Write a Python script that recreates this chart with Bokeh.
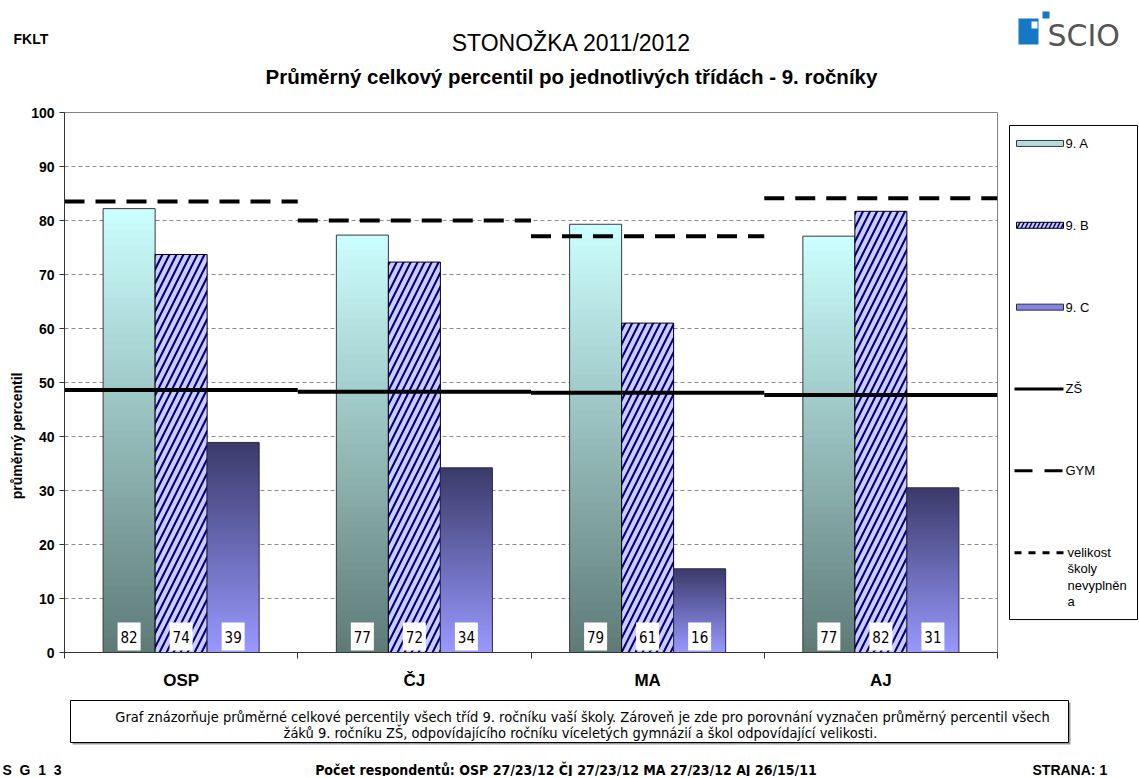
import math
from bokeh.plotting import figure
from bokeh.models import ColumnDataSource, Range1d, FixedTicker
from bokeh.layouts import column, row
from bokeh.embed import file_html
from bokeh.resources import INLINE
from bokeh.core.properties import value
from bokeh.transform import dodge

# ---------------- data ----------------
categories = ["OSP", "ČJ", "MA", "AJ"]
series_names = ["9. A", "9. B", "9. C"]
vals_9a = [82.2, 77.3, 79.3, 77.1]
vals_9b = [73.7, 72.3, 61.0, 81.7]
vals_9c = [38.9, 34.2, 15.5, 30.5]
vals_zs = [48.6, 48.3, 48.1, 47.7]
vals_gym = [83.5, 80.0, 77.1, 84.1]
y_ticks = [0, 10, 20, 30, 40, 50, 60, 70, 80, 90, 100]
respondents = ["27/23/12", "27/23/12", "27/23/12", "26/15/11"]
legend_line_names = ["ZŠ", "GYM", "velikost\nškoly\nnevyplněn\na"]

title_text = "STONOŽKA 2011/2012"
subtitle_text = "Průměrný celkový percentil po jednotlivých třídách - 9. ročníky"
y_label = "průměrný percentil"
caption_lines = [
    "Graf znázorňuje průměrné celkové percentily všech tříd 9. ročníku vaší školy. Zároveň je zde pro porovnání vyznačen průměrný percentil všech",
    "žáků  9. ročníku ZŠ, odpovídajícího ročníku víceletých gymnázií a škol odpovídající velikosti.",
]

# ---------------- styles ----------------
ARIAL = "Liberation Sans"
NARROW = "'Liberation Sans Narrow', 'DejaVu Sans Condensed', 'Liberation Sans', sans-serif"
A_TOP, A_BOT = (0xCC, 0xFF, 0xFF), (0x5E, 0x7A, 0x77)
C_TOP, C_BOT = (0x3A, 0x3A, 0x6A), (0x99, 0x99, 0xFF)
BW = 0.223          # bar width (category units)
LABEL_Y = 2.95      # value-label box centre (just above axis)
TOP_B, BOT_B = 14, 39   # shared top / bottom borders of the middle row

n = len(categories)
xs = list(range(n))

src = ColumnDataSource(dict(
    x=xs, a=vals_9a, b=vals_9b, c=vals_9c, zs=vals_zs, gym=vals_gym,
    la=[str(int(v + 0.5)) for v in vals_9a],
    lb=[str(int(v + 0.5)) for v in vals_9b],
    lc=[str(int(v + 0.5)) for v in vals_9c],
))


def mix(c1, c2, f):
    return "#%02x%02x%02x" % tuple(int(round(a + (b - a) * f)) for a, b in zip(c1, c2))


def gradient_source(vals, offset, c_bot, c_top, steps=60):
    d = dict(left=[], right=[], bottom=[], top=[], color=[])
    for i, v in enumerate(vals):
        for k in range(steps):
            d["left"].append(i + offset - BW / 2)
            d["right"].append(i + offset + BW / 2)
            d["bottom"].append(v * k / steps)
            d["top"].append(min(v, v * (k + 1.6) / steps))
            d["color"].append(mix(c_bot, c_top, (k + 0.5) / steps))
    return ColumnDataSource(d)


def canvas(w, h, xr, yr, **kw):
    f = figure(width=w, height=h, x_range=Range1d(*xr), y_range=Range1d(*yr),
               output_backend="svg", toolbar_location=None, min_border=0,
               x_axis_location=None, y_axis_location=None, **kw)
    f.outline_line_color = None
    f.grid.visible = False
    return f


# ---------------- main chart ----------------
LEFT_W = 26
p = figure(width=1003 - LEFT_W, height=594, x_range=Range1d(-0.5, n - 0.5), y_range=Range1d(0, 100),
           output_backend="svg", toolbar_location=None,
           min_border_left=64 - LEFT_W, min_border_right=6, min_border_top=TOP_B, min_border_bottom=BOT_B)
p.outline_line_color = "#808080"

xa = p.xaxis[0]
xa.ticker = FixedTicker(ticks=xs, minor_ticks=[i - 0.5 for i in range(n + 1)])
xa.major_label_overrides = {i: c for i, c in enumerate(categories)}
xa.major_tick_out = 0
xa.major_tick_in = 0
xa.minor_tick_out = 6
xa.minor_tick_in = 0
xa.minor_tick_line_color = "#333333"
xa.axis_line_color = "#333333"
xa.major_label_standoff = 12
xa.major_label_text_font = ARIAL
xa.major_label_text_font_style = "bold"
xa.major_label_text_font_size = "17px"
xa.major_label_text_color = "black"

ya = p.yaxis[0]
ya.ticker = FixedTicker(ticks=y_ticks)
ya.major_tick_out = 5
ya.major_tick_in = 0
ya.minor_tick_line_color = None
ya.axis_line_color = "#333333"
ya.major_tick_line_color = "#333333"
ya.major_label_standoff = 5
ya.major_label_text_font = ARIAL
ya.major_label_text_font_style = "bold"
ya.major_label_text_font_size = "14px"
ya.major_label_text_color = "black"

p.xgrid.visible = False
p.ygrid.ticker = FixedTicker(ticks=y_ticks)
p.ygrid.grid_line_color = "#8a8a8a"
p.ygrid.grid_line_dash = "4 3"
p.ygrid.grid_line_width = 1

# 9. A gradient bars
p.quad(left="left", right="right", bottom="bottom", top="top", fill_color="color",
       line_color=None, source=gradient_source(vals_9a, -BW, A_BOT, A_TOP))
p.vbar(x=dodge("x", -BW, range=p.x_range), top="a", width=BW, source=src,
       fill_color=None, line_color="#3a3a3a", line_width=1)
# 9. B hatched bars
p.vbar(x=dodge("x", 0, range=p.x_range), top="b", width=BW, source=src,
       fill_color="#ccccff", hatch_pattern="/", hatch_color="#000080",
       hatch_weight=2.1, hatch_scale=14, line_color="black", line_width=1)
# 9. C gradient bars
p.quad(left="left", right="right", bottom="bottom", top="top", fill_color="color",
       line_color=None, source=gradient_source(vals_9c, BW, C_BOT, C_TOP))
p.vbar(x=dodge("x", BW, range=p.x_range), top="c", width=BW, source=src,
       fill_color=None, line_color="#2a2a4a", line_width=1)

# reference lines
p.segment(x0=dodge("x", -0.5, range=p.x_range), x1=dodge("x", 0.5, range=p.x_range),
          y0="zs", y1="zs", source=src, line_color="black", line_width=4)
p.segment(x0=dodge("x", -0.5, range=p.x_range), x1=dodge("x", 0.5, range=p.x_range),
          y0="gym", y1="gym", source=src, line_color="black", line_width=4,
          line_dash="20 11")

# value labels
for off, col in ((-BW, "la"), (0, "lb"), (BW, "lc")):
    p.rect(x=dodge("x", off, range=p.x_range), y=LABEL_Y, width=23, height=28,
           width_units="screen", height_units="screen", source=src,
           fill_color="white", line_color=None)
    p.text(x=dodge("x", off, range=p.x_range), y=LABEL_Y, text=col, source=src,
           text_align="center", text_baseline="middle", text_font=value(NARROW),
           text_font_size="15px", text_color="black")

# ---------------- y-axis title (pixel canvas, same frame borders) ----------------
ylab = canvas(LEFT_W, 594, (0, LEFT_W), (653, 112), min_border_top=TOP_B, min_border_bottom=BOT_B)
ylab.text(x=[16], y=[436], text=[y_label], angle=math.pi / 2, text_font=value(ARIAL),
          text_font_style="bold", text_font_size="14px", text_align="center",
          text_baseline="middle", text_color="black")

# ---------------- legend (pixel canvas) ----------------
leg = canvas(1139 - 1003, 594, (1003, 1139), (653, 112), min_border_top=TOP_B, min_border_bottom=BOT_B)
leg.quad(left=[1009], right=[1137], top=[125], bottom=[620], fill_color=None,
         line_color="black", line_width=1)
row_y = [143, 225, 307, 389, 471, 553]
leg.quad(left=[1016], right=[1063], top=[row_y[0] - 3], bottom=[row_y[0] + 3],
         fill_color="#b4dede", line_color="#3a3a3a")
leg.quad(left=[1016], right=[1063], top=[row_y[1] - 3], bottom=[row_y[1] + 3],
         fill_color="#ccccff", hatch_pattern="/", hatch_color="#000080",
         hatch_weight=1.5, hatch_scale=8, line_color="black")
leg.quad(left=[1016], right=[1063], top=[row_y[2] - 3], bottom=[row_y[2] + 3],
         fill_color="#8585e0", line_color="#2a2a4a")
leg.segment(x0=[1014], x1=[1063], y0=[row_y[3]], y1=[row_y[3]], line_color="black", line_width=3)
leg.segment(x0=[1014], x1=[1063], y0=[row_y[4]], y1=[row_y[4]], line_color="black", line_width=3,
            line_dash="18 12")
leg.segment(x0=[1014], x1=[1063], y0=[row_y[5]], y1=[row_y[5]], line_color="black", line_width=3,
            line_dash="7 7")
leg.text(x=[1065] * 5, y=row_y[:5], text=series_names + legend_line_names[:2],
         text_font=value(ARIAL), text_font_size="13px", text_baseline="middle",
         text_align="left", text_color="black")
leg.text(x=[1067], y=[row_y[5] - 8], text=[legend_line_names[2]],
         text_font=value(ARIAL), text_font_size="13px", text_baseline="top",
         text_align="left", text_color="black", text_line_height=1.1)

# ---------------- header (pixel canvas) ----------------
hdr = canvas(1139, 98, (0, 1139), (98, 0))
hdr.text(x=[13], y=[38], text=["FKLT"], text_font=value(ARIAL), text_font_style="bold",
         text_font_size="14px", text_baseline="middle", text_color="black")
hdr.text(x=[571], y=[42], text=[title_text], text_font=value(ARIAL), text_font_size="23px",
         text_align="center", text_baseline="middle", text_color="black")
hdr.text(x=[571], y=[76], text=[subtitle_text], text_font=value(ARIAL), text_font_style="bold",
         text_font_size="20.5px", text_align="center", text_baseline="middle", text_color="black")
# SCIO logo
hdr.quad(left=[1018], right=[1038], top=[18], bottom=[44], fill_color="#1677c2", line_color=None)
hdr.quad(left=[1031], right=[1037], top=[21], bottom=[28], fill_color="white", line_color=None)
hdr.quad(left=[1042], right=[1049], top=[11], bottom=[18], fill_color="#1677c2", line_color=None)
hdr.text(x=[1047], y=[35], text=["SCIO"], text_font=value("DejaVu Sans"), text_font_size="30px",
         text_baseline="middle", text_color="#555555")

# ---------------- footer (pixel canvas) ----------------
ftr = canvas(1139, 84, (0, 1139), (776, 692))
ftr.quad(left=[72], right=[1070], top=[702], bottom=[744], fill_color="#9a9a9a", line_color=None)
ftr.quad(left=[70], right=[1068], top=[700], bottom=[742], fill_color="white", line_color="black")
ftr.text(x=[582, 582], y=[716, 732], text=caption_lines, text_font=value(NARROW),
         text_font_size="14.5px", text_align="center", text_baseline="middle", text_color="black")
ftr.text(x=[2], y=[769], text=["S_G_1_3"], text_font=value(ARIAL), text_font_style="bold",
         text_font_size="14px", text_baseline="middle", text_color="black")
resp_text = "Počet respondentů: " + "  ".join(c + " " + r for c, r in zip(categories, respondents))
ftr.text(x=[572], y=[769], text=[resp_text], text_font=value(NARROW), text_font_style="bold",
         text_font_size="14px", text_align="center", text_baseline="middle", text_color="black")
ftr.text(x=[1032], y=[769], text=["STRANA: 1"], text_font=value(ARIAL), text_font_style="bold",
         text_font_size="14px", text_baseline="middle", text_color="black")

layout = column(hdr, row(ylab, p, leg), ftr)
open("out.html", "w").write(file_html(layout, INLINE))
